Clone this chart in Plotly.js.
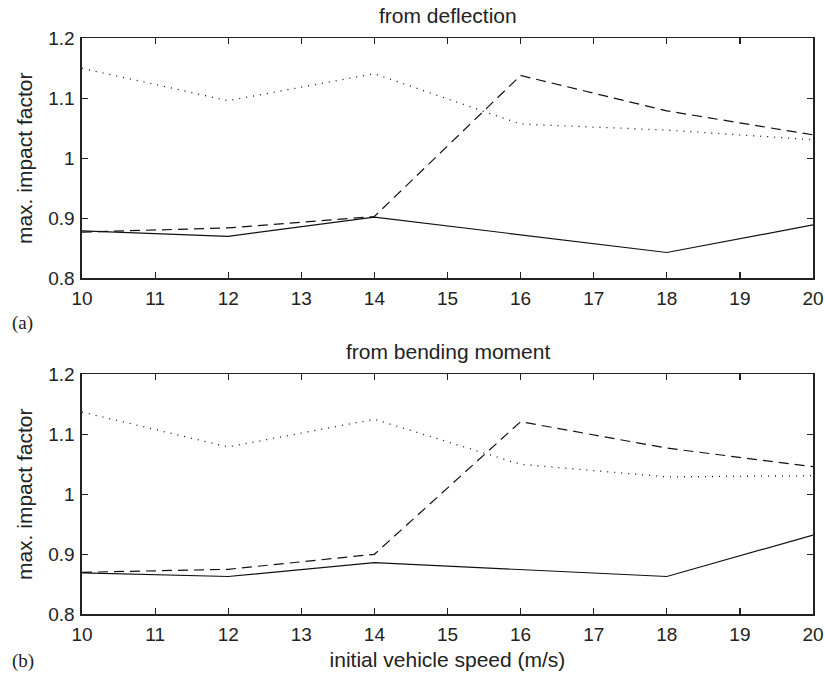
<!DOCTYPE html>
<html>
<head>
<meta charset="utf-8">
<script src="https://cdn.plot.ly/plotly-3.0.1.min.js"></script>
<style>html,body{margin:0;padding:0;background:#fff;}#chart{width:825px;height:675px;}</style>
</head>
<body>
<div id="chart"></div>
<script>
// Data
const speeds = [10, 12, 14, 16, 18, 20];
// (a) from deflection
const deflSolid  = [0.879, 0.870, 0.902, 0.873, 0.843, 0.889];
const deflDashed = [0.877, 0.884, 0.903, 1.138, 1.079, 1.039];
const deflDotted = [1.150, 1.096, 1.141, 1.057, 1.047, 1.031];
// (b) from bending moment
const bendSolid  = [0.869, 0.863, 0.886, 0.874, 0.863, 0.932];
const bendDashed = [0.870, 0.875, 0.900, 1.121, 1.077, 1.046];
const bendDotted = [1.137, 1.079, 1.125, 1.050, 1.029, 1.031];

const xTicks = [10, 11, 12, 13, 14, 15, 16, 17, 18, 19, 20];
const yTicks = [0.8, 0.9, 1.0, 1.1, 1.2];
const yTickText = ['0.8', '0.9', '1', '1.1', '1.2'];

const titleA = 'from deflection';
const titleB = 'from bending moment';
const yLabel = 'max. impact factor';
const xLabel = 'initial vehicle speed (m/s)';

const lineColor = '#111';
function tr(y, dash, xa, ya, w) {
  return {x: speeds, y: y, type: 'scatter', mode: 'lines', xaxis: xa, yaxis: ya,
          line: {color: lineColor, width: w, dash: dash}, showlegend: false, hoverinfo: 'skip'};
}
const data = [
  tr(deflSolid, 'solid', 'x', 'y', 1.2),
  tr(deflDashed, '10px,6px', 'x', 'y', 1.2),
  tr(deflDotted, '1px,6px', 'x', 'y', 1.3),
  tr(bendSolid, 'solid', 'x2', 'y2', 1.2),
  tr(bendDashed, '10px,6px', 'x2', 'y2', 1.2),
  tr(bendDotted, '1px,6px', 'x2', 'y2', 1.3)
];

const fontFam = 'Liberation Sans, Arial, Helvetica, sans-serif';
const tickFont = {family: fontFam, size: 19, color: '#222'};
function xax(anchor, withTitle) {
  const a = {domain: [0, 1], range: [10, 20], anchor: anchor, tickvals: xTicks,
    ticks: 'inside', ticklen: 6, tickwidth: 1.2, tickcolor: '#222',
    showline: true, linecolor: '#222', linewidth: 1.6, mirror: 'ticks',
    showgrid: false, zeroline: false, tickfont: tickFont, ticklabelstandoff: 2};
  if (withTitle) a.title = {text: xLabel, font: {family: fontFam, size: 21, color: '#222'}, standoff: 8};
  return a;
}
function yax(anchor, dom) {
  return {domain: dom, range: [0.8, 1.2], anchor: anchor, tickvals: yTicks, ticktext: yTickText,
    ticks: 'inside', ticklen: 6, tickwidth: 1.2, tickcolor: '#222',
    showline: true, linecolor: '#222', linewidth: 1.6, mirror: 'ticks',
    showgrid: false, zeroline: false, tickfont: tickFont, ticklabelstandoff: 2,
    title: {text: yLabel, font: {family: fontFam, size: 21, color: '#222'}, standoff: 10}};
}

const layout = {
  width: 825, height: 675,
  margin: {l: 82, r: 12, t: 0, b: 0},
  paper_bgcolor: '#fff', plot_bgcolor: '#fff',
  xaxis: xax('y', false),
  yaxis: yax('x', [0.5877, 0.9433]),
  xaxis2: xax('y2', true),
  yaxis2: yax('x2', [0.0899, 0.4455]),
  annotations: [
    {text: titleA, xref: 'paper', yref: 'paper', x: 0.5, y: 1 - 15/675, xanchor: 'center', yanchor: 'middle',
     showarrow: false, font: {family: fontFam, size: 21, color: '#222'}},
    {text: titleB, xref: 'paper', yref: 'paper', x: 0.5, y: 1 - 352/675, xanchor: 'center', yanchor: 'middle',
     showarrow: false, font: {family: fontFam, size: 21, color: '#222'}},
    {text: '(a)', xref: 'paper', yref: 'paper', x: -72/731, y: 1 - 323/675, xanchor: 'left', yanchor: 'middle',
     showarrow: false, font: {family: 'Liberation Serif, Times New Roman, serif', size: 19, color: '#222'}},
    {text: '(b)', xref: 'paper', yref: 'paper', x: -72/731, y: 1 - 661/675, xanchor: 'left', yanchor: 'middle',
     showarrow: false, font: {family: 'Liberation Serif, Times New Roman, serif', size: 19, color: '#222'}}
  ]
};

Plotly.newPlot('chart', data, layout, {staticPlot: true, displayModeBar: false});
</script>
</body>
</html>
